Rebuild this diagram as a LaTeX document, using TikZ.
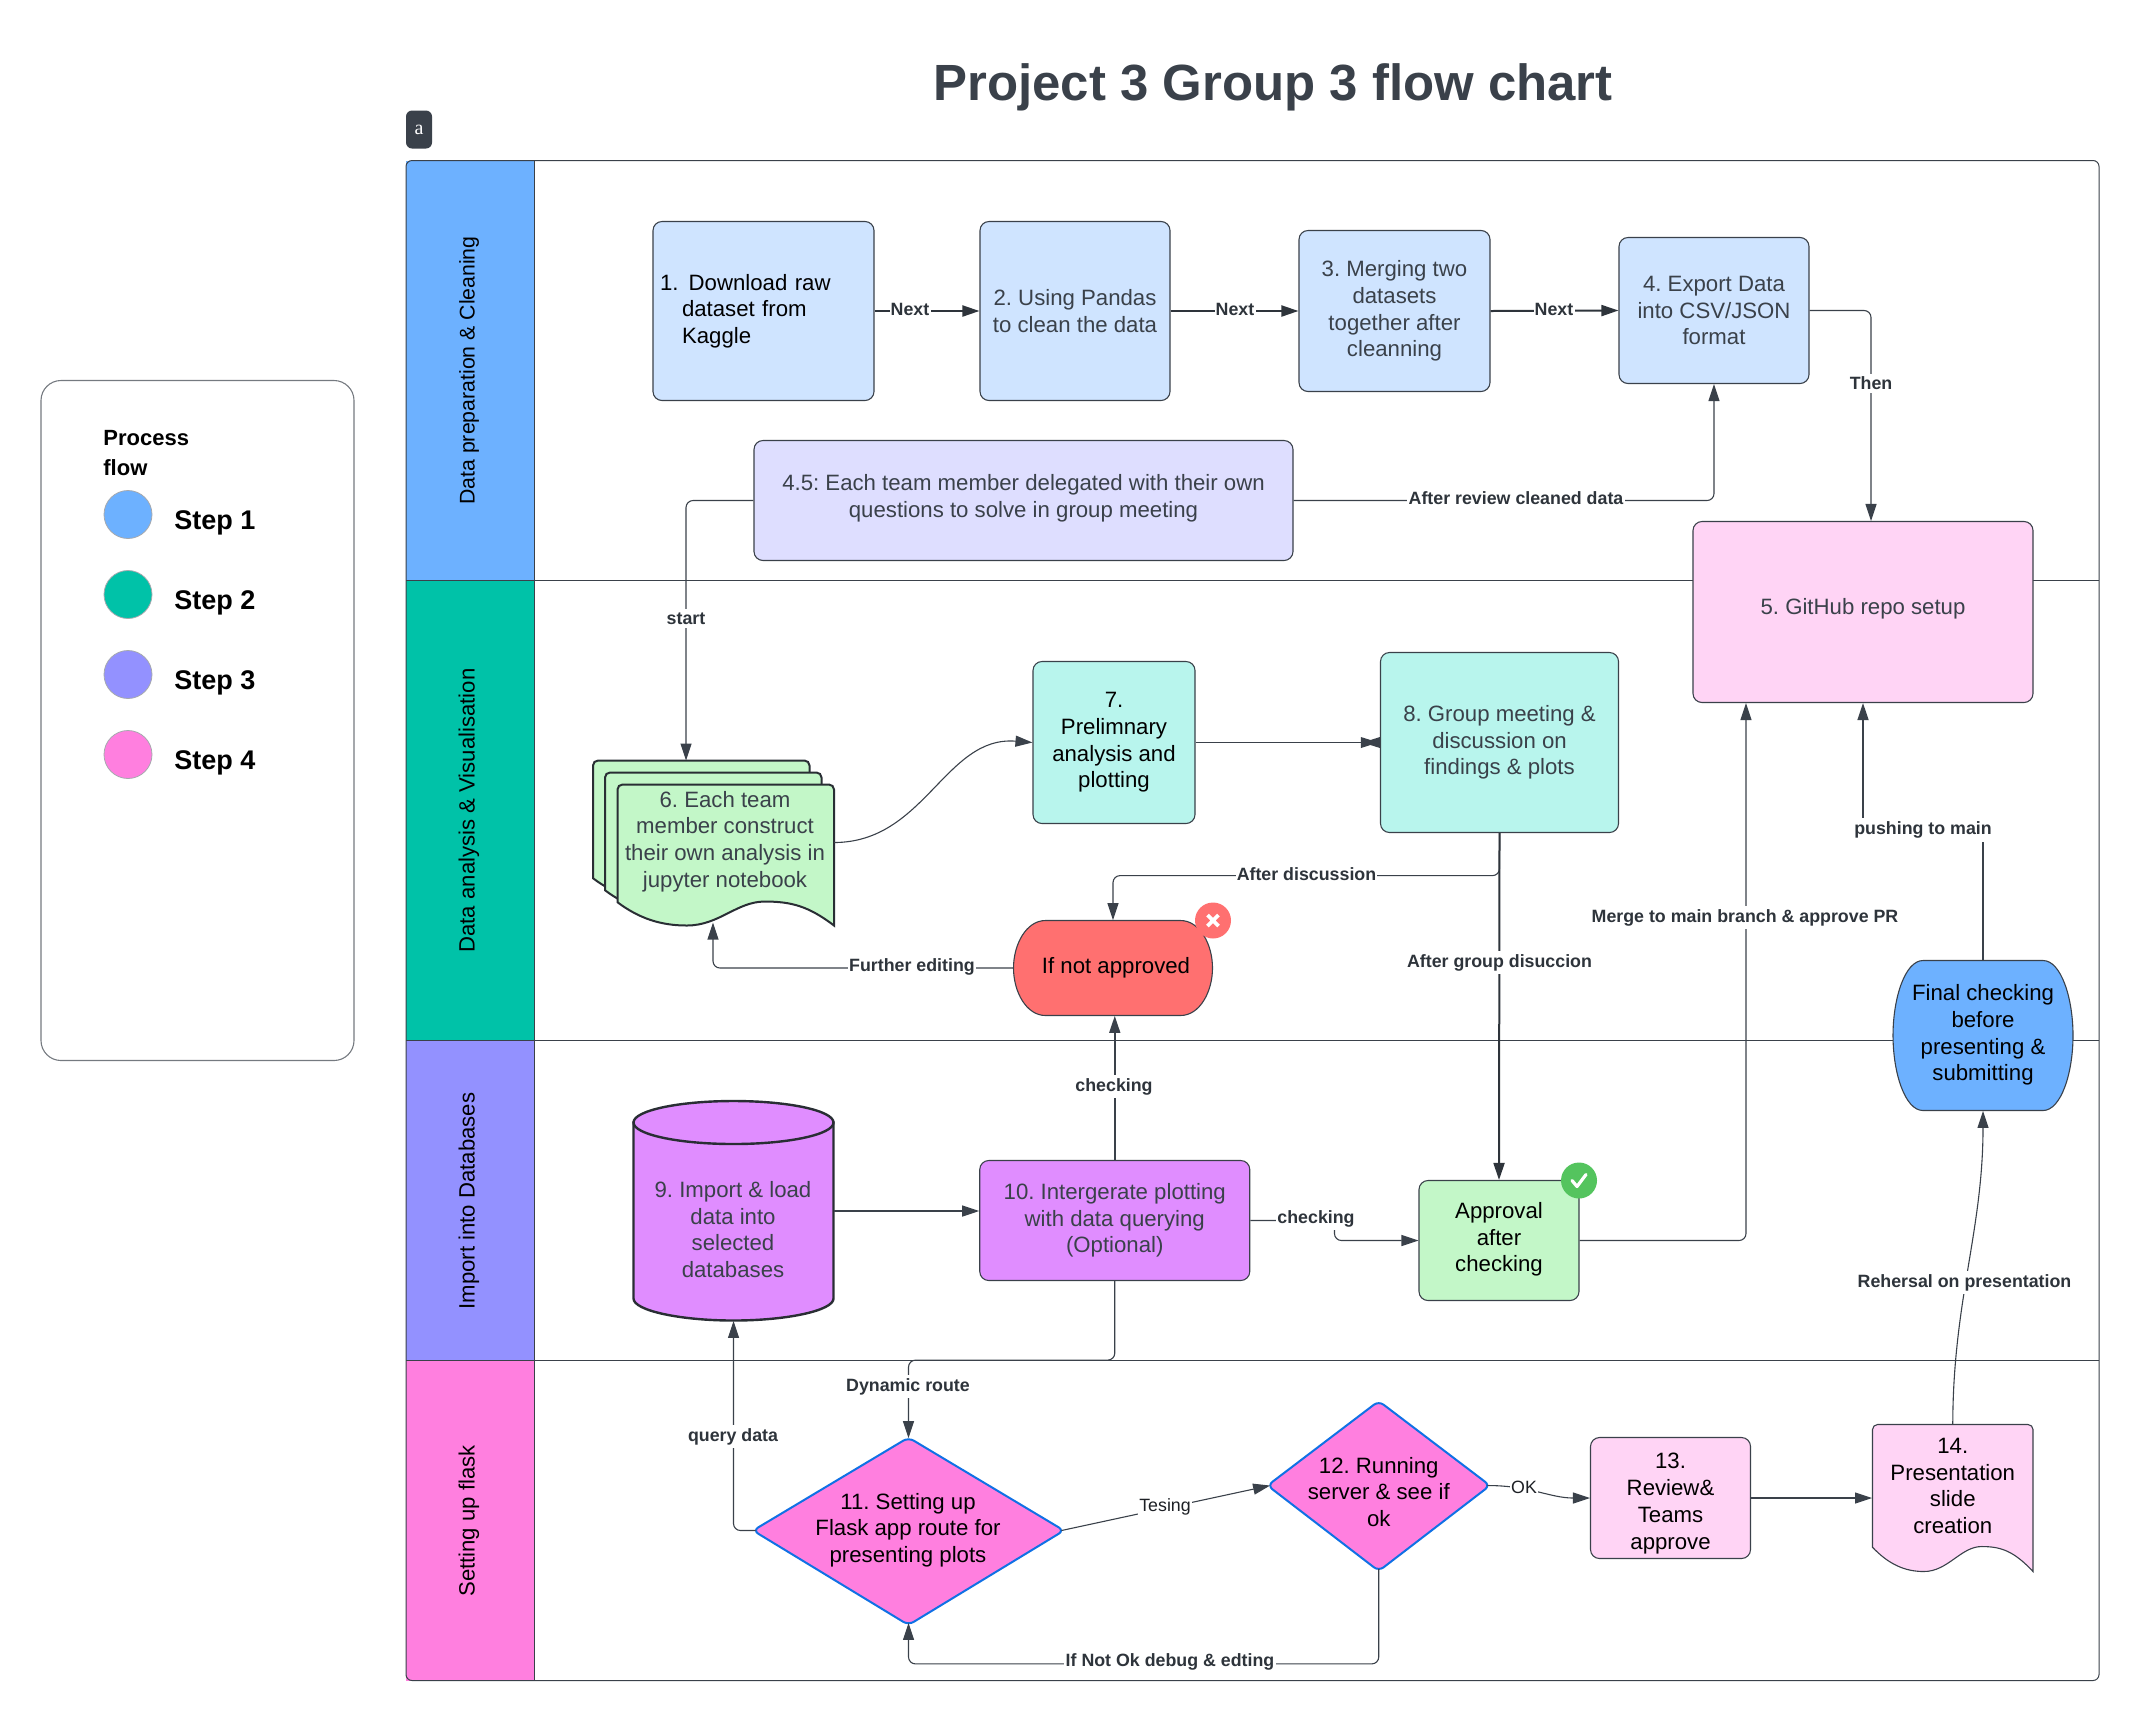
\documentclass[tikz,border=0pt]{standalone}
\usepackage{fontspec}
\setmainfont{Liberation Sans}
\newfontfamily\badgefont{Liberation Serif}
\usetikzlibrary{arrows.meta,calc}
\frenchspacing
\definecolor{ink}{HTML}{3A414A}
\definecolor{lblue}{HTML}{CFE4FF}
\definecolor{lviolet}{HTML}{DEDEFF}
\definecolor{lpink}{HTML}{FFD4F5}
\definecolor{lteal}{HTML}{B8F5ED}
\definecolor{lgreen}{HTML}{C3F7C8}
\definecolor{sblue}{HTML}{6DB1FF}
\definecolor{steal}{HTML}{00C2A8}
\definecolor{sviolet}{HTML}{9391FF}
\definecolor{spink}{HTML}{FF7FDF}
\definecolor{mviolet}{HTML}{E08DFF}
\definecolor{mred}{HTML}{FF7070}
\definecolor{okgreen}{HTML}{54C45E}
\definecolor{dblue}{HTML}{1071E5}
\newcommand\bodyf{\fontsize{11.1}{13.35}\selectfont}
\newcommand\labf{\fontsize{8.9}{10.5}\selectfont\bfseries}
\newcommand\docsh[5]{%
  \begin{scope}[shift={(#1,#2)},xscale=#3,yscale=#4]
    \draw[#5] (0,.835) [rounded corners=2.5pt] -- (0,0) -- (1,0) [sharp corners] -- (1,1)
      .. controls (.88,.86) and (.8,.83) .. (.68,.83)
      .. controls (.55,.83) and (.47,1) .. (.32,1)
      .. controls (.2,1) and (.1,.95) .. (0,.835) -- cycle;
  \end{scope}}
\newcommand\termsh[6]{%
  \draw[#6] ({#1+#5},#2) -- ({#1+#3-#5},#2)
    .. controls ({#1+#3-.4*#5},#2) and ({#1+#3},{#2+.25*#4}) .. ({#1+#3},{#2+.5*#4})
    .. controls ({#1+#3},{#2+.75*#4}) and ({#1+#3-.4*#5},{#2+#4}) .. ({#1+#3-#5},{#2+#4})
    -- ({#1+#5},{#2+#4})
    .. controls ({#1+.4*#5},{#2+#4}) and (#1,{#2+.75*#4}) .. (#1,{#2+.5*#4})
    .. controls (#1,{#2+.25*#4}) and ({#1+.4*#5},#2) .. ({#1+#5},#2) -- cycle;}
\tikzset{
  box/.style={draw=ink,line width=.55pt,rounded corners=4.5pt,font=\bodyf,align=center,inner sep=2pt,text=ink},
  anchorbox/.style={inner sep=0pt,font=\bodyf,align=center},
  txt/.style={font=\bodyf,align=center,inner sep=0pt},
  lane/.style={draw=ink,line width=.5pt},
  lanetxt/.style={rotate=90,font=\fontsize{11.07}{13}\selectfont,text=black,inner sep=0pt},
  conn/.style={draw=ink,line width=.55pt,rounded corners=3.5pt,-{Triangle[length=8.5pt,width=5.5pt]}},
  thick conn/.style={conn,line width=1pt,color=ink!80!black},
  lab/.style={font=\labf,fill=white,inner xsep=.6pt,inner ysep=1.6pt,text=ink!80!black},
  plainlab/.style={font=\fontsize{8.9}{10.5}\selectfont,fill=white,inner xsep=.6pt,inner ysep=1.6pt,text=ink!50!black},
  legtxt/.style={font=\fontsize{13.5}{16}\selectfont\bfseries,anchor=west,inner sep=0pt,text=black},
  legdot/.style={circle,draw=ink!45,line width=.4pt,minimum size=24pt,inner sep=0pt}
}
\begin{document}
\begin{tikzpicture}[x=.5pt,y=-.5pt]
\useasboundingbox (0,-.5) rectangle (2139,1719.5);
% title and badge
\node[font=\fontsize{25.46}{30}\selectfont\bfseries,text=ink,inner sep=0pt] (title) at (1273,87) {Project 3 Group 3 flow chart};
\node[fill=ink,rounded corners=3pt,text=white,font=\badgefont\fontsize{10}{11}\selectfont,minimum width=13pt,minimum height=19pt,inner sep=0pt] (badge) at (419,129) {a};
% legend
\node[draw=ink!70,line width=.55pt,rounded corners=10pt,minimum width=156.5pt,minimum height=340pt,inner sep=0pt] (legend) at (197.5,720) {};
\node[font=\fontsize{11}{15}\selectfont\bfseries,align=left,anchor=west,inner sep=0pt,text=black] (legtitle) at (103,453) {Process\\flow};
\node[legdot,fill=sblue] (d1) at (128,514) {};
\node[legdot,fill=steal] (d2) at (128,594) {};
\node[legdot,fill=sviolet] (d3) at (128,674) {};
\node[legdot,fill=spink] (d4) at (128,754) {};
\node[legtxt] (s1) at (174,522) {Step 1};
\node[legtxt] (s2) at (174,602) {Step 2};
\node[legtxt] (s3) at (174,682) {Step 3};
\node[legtxt] (s4) at (174,762) {Step 4};
% swimlanes
\fill[sblue] (406,160) rectangle (534,580);
\fill[steal] (406,580) rectangle (534,1040);
\fill[sviolet] (406,1040) rectangle (534,1360);
\fill[spink] (406,1360) rectangle (534,1680);
\draw[lane] (534,160) -- (534,1680);
\draw[lane] (406,580) -- (2099,580);
\draw[lane] (406,1040) -- (2099,1040);
\draw[lane] (406,1360) -- (2099,1360);
\draw[lane,rounded corners=3pt] (406,160) rectangle (2099,1680);
\node[lanetxt,font=\fontsize{10.63}{12}\selectfont] (l1) at (469,370) {Data preparation \& Cleaning};
\node[lanetxt] (l2) at (469,810) {Data analysis \& Visualisation};
\node[lanetxt] (l3) at (469,1200.5) {Import into Databases};
\node[lanetxt] (l4) at (469,1520.5) {Setting up flask};
% row 1
\node[box,fill=lblue,minimum width=110.5pt,minimum height=89.5pt,inner xsep=3.5pt,text width=103.5pt,align=left,text=black] (n1) at (763.5,310.5) {1.\hspace{5.1pt}Download raw\\\hspace{11pt}dataset from\\\hspace{11pt}Kaggle};
\node[box,fill=lblue,minimum width=95pt,minimum height=89.5pt] (n2) at (1075,310.5) {2. Using Pandas\\to clean the data};
\node[box,fill=lblue,minimum width=95.5pt,minimum height=80.5pt] (n3) at (1394.5,310.5) {3. Merging two\\datasets\\together after\\cleanning};
\node[box,fill=lblue,minimum width=95pt,minimum height=73pt] (n4) at (1714,310) {4. Export Data\\into CSV/JSON\\format};
\node[box,fill=lviolet,minimum width=269.5pt,minimum height=60pt] (n45) at (1023.5,500) {};
\node[txt,text=ink] (n45t) at (1023.5,497.5) {4.5: Each team member delegated with their own\\questions to solve in group meeting};
% node 5
\node[box,fill=lpink,minimum width=170pt,minimum height=90.5pt] (n5) at (1863,611.5) {};
\node[txt,text=ink] (n5t) at (1863,608.5) {5. GitHub repo setup};
% node 6 stack
\docsh{593}{760}{216.5}{141}{draw=ink!70!black,line width=1pt,fill=lgreen}
\docsh{605}{772}{216.5}{141}{draw=ink!70!black,line width=1pt,fill=lgreen}
\docsh{617.5}{784}{216.5}{141}{draw=ink!70!black,line width=1pt,fill=lgreen}
\node[anchorbox,minimum width=108.25pt,minimum height=70.5pt,text=ink] (n6) at (725.75,854.5) {};
\node[txt,text=ink] (n6t) at (725,841) {6. Each team\\member construct\\their own analysis in\\jupyter notebook};
\coordinate (n6in) at (686,760);
\coordinate (n6out) at (834,842);
\coordinate (n6bot) at (713,922);
% node 7, 8
\node[box,fill=lteal,minimum width=81pt,minimum height=81pt,text=black] (n7) at (1114,742) {7.\\Prelimnary\\analysis and\\plotting};
\node[box,fill=lteal,minimum width=119pt,minimum height=90pt] (n8) at (1499.5,742) {8. Group meeting \&\\discussion on\\findings \& plots};
% not approved
\termsh{1013.5}{920}{199}{95}{32}{draw=ink,line width=.55pt,fill=mred}
\node[anchorbox,minimum width=99.5pt,minimum height=47.5pt,text=black] (nna) at (1113,967.5) {};
\node[txt,text=black] (nnat) at (1116,967) {If not approved};
\node[circle,fill=mred,minimum size=18pt,inner sep=0pt] (xb) at (1213,920) {};
\draw[white,line width=1.9pt] ($(xb)+(-5.5,-5.5)$) -- ($(xb)+(5.5,5.5)$) ($(xb)+(-5.5,5.5)$) -- ($(xb)+(5.5,-5.5)$);
% final checking
\termsh{1893}{960}{180}{150}{30}{draw=ink,line width=.55pt,fill=sblue}
\node[anchorbox,minimum width=90pt,minimum height=75pt] (nf) at (1983,1035) {};
\node[txt,text=black] (nft) at (1983,1034.5) {Final checking\\before\\presenting \&\\submitting};
% cylinder
\draw[draw=ink!70!black,line width=1.2pt,fill=mviolet] (633.5,1122) -- (633.5,1298)
  .. controls (633.5,1310) and (680,1320) .. (733.5,1320)
  .. controls (787,1320) and (833.5,1310) .. (833.5,1298) -- (833.5,1122) -- cycle;
\draw[draw=ink!70!black,line width=1.2pt,fill=mviolet] (733.5,1122) ellipse [x radius=100, y radius=21.5];
\node[anchorbox,minimum width=100pt,minimum height=109.5pt] (n9) at (733.5,1210.5) {};
\node[txt,text=ink] (n9t) at (733,1229) {9. Import \& load\\data into\\selected\\databases};
% 10 and approval
\node[box,fill=mviolet,minimum width=135pt,minimum height=60pt] (n10) at (1114.75,1220) {10. Intergerate plotting\\with data querying\\(Optional)};
\node[box,fill=lgreen,minimum width=80pt,minimum height=60pt,text=black] (nap) at (1499,1240) {};
\node[txt,text=black] (napt) at (1499,1239) {Approval\\after\\checking};
\node[circle,fill=okgreen,minimum size=18pt,inner sep=0pt] (ok) at (1579,1180) {};
\draw[white,line width=1.6pt,line cap=round,line join=round] ($(ok)+(-7,0)$) -- ($(ok)+(-2,6)$) -- ($(ok)+(7,-6)$);
% diamonds
\draw[draw=dblue,line width=1pt,fill=spink,rounded corners=3pt] (908.5,1437) -- (1064,1530) -- (908.5,1624.5) -- (753,1530) -- cycle;
\node[anchorbox,minimum width=152.5pt,minimum height=92pt] (n11) at (908.5,1530) {};
\node[txt,text=black] (n11t) at (908,1529.5) {11. Setting up\\Flask app route for\\presenting plots};
\draw[draw=dblue,line width=1pt,fill=spink,rounded corners=3pt] (1378.75,1400.5) -- (1490,1485) -- (1378.75,1570.5) -- (1267.5,1485) -- cycle;
\node[anchorbox,minimum width=108.25pt,minimum height=83pt] (n12) at (1378.75,1485) {};
\node[txt,text=black] (n12t) at (1378.75,1491.5) {12. Running\\server \& see if\\ok};
% 13 14
\node[box,fill=lpink,minimum width=80pt,minimum height=60.5pt,text=black] (n13) at (1670.5,1497.5) {};
\node[txt,text=black] (n13t) at (1670.5,1503) {13.\\Review\&\\Teams\\approve};
\docsh{1872.5}{1424}{160.5}{147}{draw=ink,line width=.55pt,fill=lpink}
\node[anchorbox,minimum width=80.25pt,minimum height=73.5pt] (n14) at (1952.75,1497.5) {};
\node[txt,text=black] (n14t) at (1952.75,1485.5) {14.\\Presentation\\slide\\creation};
% connectors
\draw[thick conn] (n1.east) -- (n2.west);
\draw[thick conn] (n2.east) -- (n3.west);
\draw[thick conn] (n3.east) -- (n4.west);
\node[lab] (lnx1) at (910,308.5) {Next};
\node[lab] (lnx2) at (1235,308.5) {Next};
\node[lab] (lnx3) at (1554,308.5) {Next};
\draw[conn] (n4.east) -| ($(n5.north)+(8,0)$);
\node[lab] (lthen) at (1871,383) {Then};
\draw[conn] (n45.east) -| (n4.south);
\node[lab] (lrev) at (1516,498) {After review cleaned data};
\draw[conn] (n45.west) -| (n6in);
\node[lab] (lstart) at (686,618) {start};
\draw[conn] (n6out) .. controls (925,842) and (945,735) .. (n7.west);
\draw[draw=ink,line width=.55pt] (n7.east) -- ($(n8.west)+(-18,0)$);
\fill[ink] ($(n8.west)+(-19,-5.5)$) -- ($(n8.west)+(-9.5,-2.5)$) -- ($(n8.west)+(0,-5.5)$) -- ($(n8.west)+(0,5.5)$) -- ($(n8.west)+(-9.5,2.5)$) -- ($(n8.west)+(-19,5.5)$) -- cycle;
\draw[conn] (n8.south) |- ($(nna.north)+(0,-44.5)$) -- (nna.north);
\node[lab] (ldisc) at (1306.5,874) {After discussion};
\draw[thick conn] (n8.south) -- (nap.north);
\node[lab] (lgrp) at (1499.5,962) {After group disuccion};
\draw[conn] (nap.east) -| ($(n5.south)+(-117,0)$);
\node[lab] (lmerge) at (1745,917) {Merge to main branch \& approve PR};
\draw[conn,line width=.8pt] (nf.north) |- ($(n5.south)+(0,127)$) -- (n5.south);
\node[lab] (lpush) at (1923,829.5) {pushing to main};
\draw[conn] (n14.north) .. controls (1953,1300) and (1983,1230) .. (nf.south);
\node[lab] (lreh) at (1964.5,1282) {Rehersal on presentation};
\draw[conn,line width=.8pt] (n10.north) -- (n10.north |- nna.south);
\node[lab] (lchk1) at (1114,1086) {checking};
\draw[conn,line width=.7pt] (n9.east) -- (n9.east -| n10.west);
\draw[conn] (n10.east) -| ($(nap.west)+(-84,0)$) -- (nap.west);
\node[lab] (lchk2) at (1316,1218) {checking};
\draw[conn] (nna.west) -| (n6bot);
\node[lab] (lfur) at (912,966) {Further editing};
\draw[conn] (n10.south) |- ($(n11.north)+(0,-78)$) -- (n11.north);
\node[lab] (ldyn) at (908,1386) {Dynamic route};
\draw[conn] (n11.west) -| (n9.south);
\node[lab] (lq) at (733,1436) {query data};
\draw[conn] (n11.east) -- (n12.west);
\node[plainlab] (lts) at (1165,1506) {Tesing};
\draw[conn] (n12.east) .. controls (1530,1485) and (1550,1497.5) .. (n13.west);
\node[plainlab] (lokk) at (1524,1487) {OK};
\draw[conn] (n12.south) |- ($(n11.south)+(0,41)$) -- (n11.south);
\node[lab] (lnot) at (1170,1661.5) {If Not Ok debug \& edting};
\draw[conn] (n13.east) -- (n13.east -| n14.west);
\end{tikzpicture}
\end{document}
